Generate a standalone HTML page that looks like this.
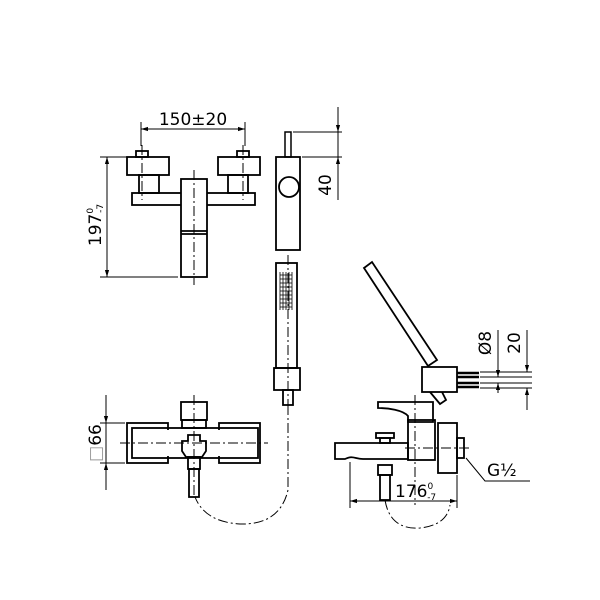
<!DOCTYPE html>
<html><head><style>html,body{margin:0;padding:0;background:#fff}svg{display:block}text{font-family:"DejaVu Sans","Liberation Sans",sans-serif;fill:#000}</style></head>
<body>
<svg width="600" height="600" viewBox="0 0 600 600" xmlns="http://www.w3.org/2000/svg">
<defs>
<marker id="a" viewBox="0 0 10 10" refX="10" refY="5" markerWidth="7" markerHeight="7" orient="auto-start-reverse"><path d="M0,2 L10,5 L0,8 z" fill="#000"/></marker>
</defs>
<g fill="none" stroke="#000" stroke-width="1.8">
<!-- top front view -->
<rect x="136" y="151" width="12" height="6"/>
<rect x="127" y="157" width="42" height="18"/>
<rect x="139" y="175" width="20" height="18"/>
<rect x="237" y="151" width="12" height="6"/>
<rect x="218" y="157" width="42" height="18"/>
<rect x="228" y="175" width="20" height="18"/>
<rect x="132" y="193" width="123" height="12"/>
<rect x="181" y="179" width="26" height="98" fill="#fff"/>
<line x1="181" y1="231" x2="207" y2="231"/><line x1="181" y1="234" x2="207" y2="234"/>
<!-- side top -->
<rect x="285" y="132" width="6" height="25" stroke-width="1.5"/>
<rect x="276" y="157" width="24" height="93"/>
<circle cx="289" cy="187" r="10" fill="#fff"/>
<rect x="276" y="263" width="21" height="105"/>
<rect x="274" y="368" width="26" height="22"/>
<rect x="283" y="390" width="10" height="15"/>
<!-- bottom front -->
<rect x="132" y="428" width="126" height="30"/>
<rect x="127" y="423" width="41" height="40"/>
<rect x="219" y="423" width="41" height="40"/>
<rect x="140" y="430" width="110" height="26" stroke="none" fill="#fff"/>
<rect x="181" y="402" width="26" height="18"/>
<rect x="182" y="420" width="24" height="8"/>
<path d="M188,435 h12 v6 h6 v10 l-4,6 h-16 l-4,-6 v-10 h6z"/>
<rect x="188" y="457" width="12" height="12"/>
<rect x="189" y="469" width="10" height="28"/>
<!-- side bottom -->
<polygon points="364,268 372,262 437,360 428,366"/>
<rect x="422" y="367" width="35" height="25"/>
<path d="M457,373 h22 M457,377 h22 M457,383 h22 M457,387 h22" stroke-width="2.5"/>
<path d="M430,392 l10,12 l6,-4 l-4,-8"/>
<path d="M378,402 h55 v20 h-25 v-6 c-5,-6 -20,-8 -30,-8z"/>
<rect x="408" y="420" width="27" height="40"/>
<rect x="438" y="423" width="19" height="50"/>
<rect x="457" y="438" width="7" height="20"/>
<path d="M335,443 h73 v16 h-45 c-8,0 -10,-4 -18,0 h-10z"/>
<rect x="380" y="438" width="10" height="5"/><rect x="376" y="433" width="18" height="5"/>
<rect x="378" y="465" width="14" height="10"/>
<rect x="380" y="475" width="10" height="25"/>
</g>
<!-- hand shower grid -->
<g stroke="#000" stroke-width="0.8">
<path d="M280,272 v38 M283,272 v38 M286,272 v38 M289,272 v38 M292,272 v38"/>
<path d="M280,275 h12 M280,279 h12 M280,283 h12 M280,287 h12 M280,291 h12 M280,295 h12 M280,299 h12 M280,303 h12 M280,307 h12"/>
</g>
<!-- center lines / hose -->
<g fill="none" stroke="#000" stroke-width="1" stroke-dasharray="10,3,2,3">
<line x1="194" y1="170" x2="194" y2="285"/>
<line x1="142" y1="145" x2="142" y2="200"/><line x1="243" y1="145" x2="243" y2="200"/>
<line x1="288" y1="255" x2="288" y2="405"/>
<line x1="120" y1="443" x2="268" y2="443"/>
<line x1="194" y1="395" x2="194" y2="497"/>
<path d="M288,405 L288,490 Q280,525 240,524 Q205,522 195,497"/>
<path d="M385,500 Q390,530 420,528 Q447,525 450,505"/>
<line x1="415" y1="395" x2="415" y2="505"/>
<line x1="405" y1="448" x2="470" y2="448"/>
</g>
<!-- dimensions -->
<g fill="none" stroke="#000" stroke-width="1">
<line x1="141" y1="122" x2="141" y2="146"/><line x1="245" y1="122" x2="245" y2="146"/>
<line x1="141" y1="129" x2="245" y2="129" marker-start="url(#a)" marker-end="url(#a)"/>
<line x1="100" y1="157" x2="127" y2="157"/><line x1="100" y1="277" x2="178" y2="277"/>
<line x1="107" y1="157" x2="107" y2="277" marker-start="url(#a)" marker-end="url(#a)"/>
<line x1="293" y1="132" x2="342" y2="132"/><line x1="302" y1="157" x2="342" y2="157"/>
<line x1="338" y1="107" x2="338" y2="132" marker-end="url(#a)"/>
<line x1="338" y1="157" x2="338" y2="200" marker-start="url(#a)"/>
<line x1="338" y1="132" x2="338" y2="157"/>
<line x1="100" y1="423" x2="125" y2="423"/><line x1="100" y1="463" x2="125" y2="463"/>
<line x1="106" y1="395" x2="106" y2="423" marker-end="url(#a)"/>
<line x1="106" y1="463" x2="106" y2="490" marker-start="url(#a)"/>
<line x1="106" y1="423" x2="106" y2="463"/>
<line x1="350" y1="462" x2="350" y2="508"/><line x1="457" y1="475" x2="457" y2="508"/>
<line x1="350" y1="501" x2="457" y2="501" marker-start="url(#a)" marker-end="url(#a)"/>
<polyline points="466,458 485,481 530,481"/>
<line x1="480" y1="372" x2="532" y2="372"/><line x1="480" y1="377" x2="532" y2="377"/>
<line x1="480" y1="383" x2="532" y2="383"/><line x1="480" y1="388" x2="532" y2="388"/>
<line x1="498" y1="330" x2="498" y2="377" marker-end="url(#a)"/>
<line x1="498" y1="383" x2="498" y2="393" marker-start="url(#a)"/>
<line x1="527" y1="330" x2="527" y2="372" marker-end="url(#a)"/>
<line x1="527" y1="388" x2="527" y2="410" marker-start="url(#a)"/>
</g>
<text x="193" y="125" font-size="17" text-anchor="middle">150±20</text>
<g transform="translate(101,225) rotate(-90)"><text x="0" y="0" font-size="17" text-anchor="middle">197<tspan font-size="9" dy="-8">0</tspan><tspan font-size="9" dx="-5" dy="10">-7</tspan></text></g>
<g transform="translate(331,185) rotate(-90)"><text x="0" y="0" font-size="17" text-anchor="middle">40</text></g>
<g transform="translate(101,443) rotate(-90)"><text x="0" y="0" font-size="17" text-anchor="middle"><tspan fill="#999">□</tspan>66</text></g>
<g transform="translate(491,343) rotate(-90)"><text x="0" y="0" font-size="17" text-anchor="middle">Ø8</text></g>
<g transform="translate(520,343) rotate(-90)"><text x="0" y="0" font-size="17" text-anchor="middle">20</text></g>
<text x="395" y="497" font-size="17">176<tspan font-size="9" dy="-8">0</tspan><tspan font-size="9" dx="-6" dy="11">-7</tspan></text>
<text x="487" y="476" font-size="17">G½</text>
</svg>
</body></html>
